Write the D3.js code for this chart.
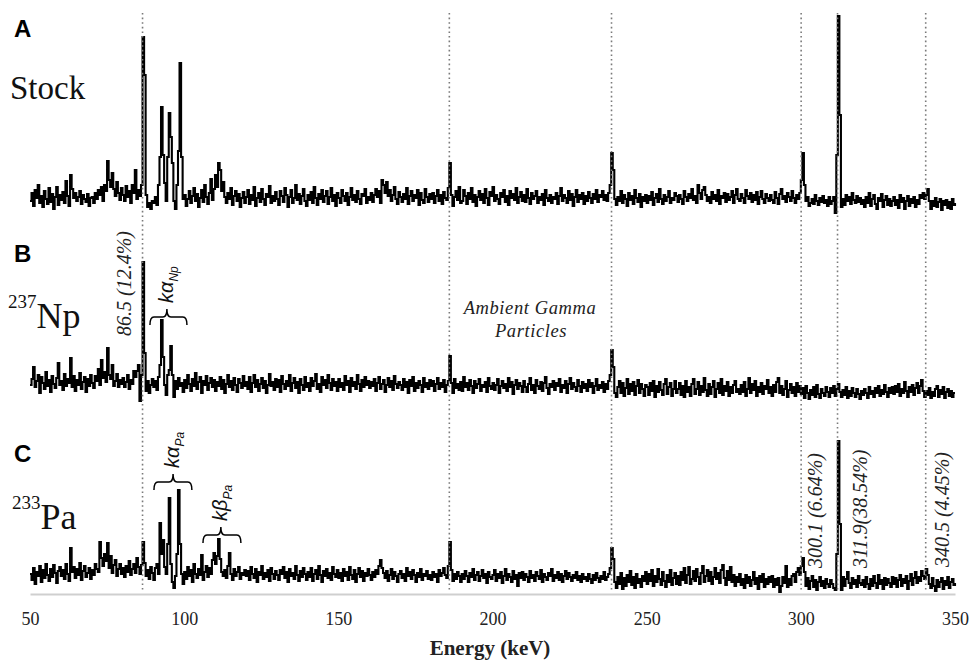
<!DOCTYPE html>
<html><head><meta charset="utf-8">
<script src="https://cdn.jsdelivr.net/npm/d3@7"></script>
<style>html,body{margin:0;padding:0;background:#fff;}svg{display:block;}
.serif{font-family:"Liberation Serif","DejaVu Serif","Noto Serif","Times New Roman",Times,serif;}
.sans{font-family:"Liberation Sans","Arimo",Arial,"DejaVu Sans",sans-serif;}
</style>
</head><body>
<svg id="chart" width="971" height="661"></svg>
<script>
// ---- DATA (counts per 0.5 keV channel, 50 .. 350 keV) ----
const startEnergy = 50, channelWidth = 0.5;
const stockCounts = [
14,22,9,25,17,30,12,19,8,24,16,11,27,13,21,6,18,28,10,20,
15,23,12,34,19,9,40,26,17,22,14,18,24,11,20,16,13,21,9,17,
18,12,22,16,25,20,28,14,30,24,54,35,28,42,26,19,33,22,15,27,
20,14,29,18,24,12,30,22,45,16,25,19,30,178,140,20,8,12,6,14,
12,18,10,30,58,108,60,32,14,58,102,78,52,14,6,30,64,152,58,16,
20,9,16,24,12,19,27,14,21,8,17,25,13,30,18,11,22,36,15,26,
40,28,52,45,24,33,18,12,22,16,27,10,19,24,14,21,8,17,23,12,
18,25,11,20,15,28,9,17,22,13,26,16,10,21,18,29,12,19,14,23,
16,10,24,19,13,27,20,8,18,25,12,17,30,15,21,11,19,26,14,9,
20,15,23,12,28,17,10,21,16,25,13,19,24,11,18,27,14,20,9,22,
17,12,25,19,14,22,10,18,27,15,20,13,24,16,11,21,19,26,12,18,
15,22,13,20,26,18,24,12,35,30,22,33,19,25,14,20,28,16,11,23,
18,13,21,16,27,11,19,24,14,20,17,25,10,22,15,12,26,18,13,21,
16,22,12,19,25,14,20,11,23,17,15,27,52,20,9,18,24,15,28,12,
14,25,19,11,22,16,27,13,20,9,18,24,15,21,12,26,17,10,23,19,
28,14,20,16,11,22,18,25,13,19,10,24,17,21,15,27,12,18,23,14,
20,13,26,17,11,22,16,19,24,12,18,15,21,10,25,17,14,20,12,18,
16,22,11,19,27,14,20,17,12,24,15,21,9,18,25,13,20,16,22,11,
19,14,23,17,12,21,16,25,13,20,18,24,15,20,14,22,30,62,45,16,
10,18,14,24,12,20,16,9,22,15,19,11,25,17,13,21,8,18,14,20,
12,19,15,23,10,17,21,13,26,16,11,20,14,18,24,12,17,15,22,19,
13,20,16,11,24,18,14,21,17,26,15,19,12,30,22,16,25,28,20,14,
18,12,23,16,20,14,25,11,19,17,22,13,21,15,18,24,12,20,26,16,
14,21,17,12,25,19,16,22,13,20,15,23,11,18,24,16,12,21,17,14,
20,15,12,23,17,11,21,26,16,19,13,22,18,14,24,17,12,20,16,22,
35,62,30,14,18,9,12,16,11,20,14,10,17,13,19,12,15,9,18,11,
14,18,2,60,199,100,8,16,10,20,14,18,11,22,15,12,19,13,17,11,
15,8,18,12,22,9,16,20,11,6,17,14,21,8,15,19,10,16,9,14,
18,10,15,7,20,13,17,6,14,19,9,16,12,18,8,15,11,20,17,22,
16,20,26,14,6,14,9,17,8,13,16,5,14,10,15,7,13,6,16,10,
12];
const npCounts = [
20,26,38,18,24,30,12,28,22,16,33,19,25,13,29,21,17,27,42,20,
24,15,31,19,26,22,47,18,29,14,25,20,32,16,23,28,13,26,19,30,
22,17,29,24,36,20,45,27,33,23,57,30,26,40,19,24,31,18,25,21,
27,18,23,30,16,25,21,34,28,34,40,4,30,143,52,14,24,12,20,26,
18,24,15,28,40,85,48,20,10,30,35,59,30,8,24,16,27,19,22,13,
25,17,30,21,14,26,19,32,16,23,28,12,24,20,29,15,22,27,18,25,
14,23,19,28,16,25,12,21,30,18,24,15,27,20,13,26,22,17,29,19,
23,16,28,13,22,30,18,25,14,21,27,17,24,12,20,31,19,23,15,26,
18,25,13,29,21,16,24,19,30,14,22,27,17,23,12,26,20,15,28,18,
22,14,27,19,24,31,16,21,13,28,20,25,17,30,22,15,26,19,23,14,
26,18,22,15,29,20,24,13,27,19,23,16,30,21,14,25,18,28,20,24,
17,23,19,26,14,22,28,16,21,25,13,20,27,18,24,15,29,21,17,23,
20,15,26,18,23,12,25,19,28,14,22,17,24,20,13,27,18,22,16,25,
19,24,14,21,27,16,22,18,25,13,20,24,49,22,12,26,17,21,15,23,
14,28,18,22,15,25,19,12,24,17,21,26,14,20,18,23,13,27,19,16,
22,15,20,26,12,19,24,17,21,14,27,18,23,11,20,25,16,22,19,13,
24,18,13,21,27,15,20,12,25,19,16,23,14,22,28,17,11,21,18,24,
15,22,19,26,13,20,17,24,12,21,27,16,22,18,14,25,19,13,23,17,
21,14,25,18,22,12,19,26,15,20,17,23,13,21,16,24,30,55,38,12,
8,18,24,12,22,9,17,26,11,21,14,23,10,19,25,12,21,16,9,20,
18,10,22,14,24,8,19,13,23,15,10,21,26,11,18,22,9,16,24,12,
16,22,10,19,8,24,13,18,9,21,26,11,16,23,10,19,13,27,15,9,
21,11,18,24,8,16,22,12,26,10,19,14,23,9,18,12,20,24,13,16,
11,20,13,23,9,16,27,12,21,15,24,9,18,13,22,11,19,16,25,12,
18,9,20,13,23,27,12,19,10,16,24,8,15,21,12,18,9,22,13,19,
11,17,7,19,12,6,15,10,18,8,20,11,7,16,12,9,18,13,8,17,
12,19,9,16,21,13,8,15,10,18,7,14,9,17,12,8,16,11,6,14,
10,16,12,7,18,11,14,8,17,12,19,9,15,11,20,13,8,17,12,18,
11,19,13,21,9,16,12,23,14,8,18,13,20,10,17,22,12,19,25,14,
8,14,10,17,7,13,9,16,19,8,15,11,18,7,13,16,9,14,8,12,
12];
const paCounts = [
20,14,26,10,22,18,28,12,24,16,30,19,13,25,17,29,21,11,23,27,
18,24,15,30,20,13,46,22,27,16,25,19,31,14,23,28,17,21,26,15,
24,19,30,25,22,52,36,28,40,33,51,26,38,21,29,34,18,25,30,20,
26,17,28,22,33,19,25,30,21,36,27,20,29,52,31,18,24,15,27,21,
14,26,30,20,71,40,54,27,20,50,96,30,12,6,18,40,104,50,20,10,
22,15,27,18,24,12,30,20,16,25,19,39,14,22,28,17,26,20,34,41,
30,38,55,35,22,18,24,16,28,41,20,14,25,18,22,27,15,21,19,24,
18,23,14,27,20,16,25,12,22,19,28,15,21,17,24,13,26,20,15,23,
19,14,24,20,27,16,22,12,25,18,21,15,28,19,13,23,17,26,20,14,
22,17,26,13,20,24,15,28,19,12,23,18,25,16,21,14,27,20,17,24,
16,21,13,25,18,22,14,27,19,15,24,12,20,26,17,23,13,21,18,25,
19,14,22,17,24,20,28,34,26,21,16,23,13,19,25,15,22,18,12,20,
23,16,20,13,26,18,22,15,24,19,12,21,17,25,14,20,18,23,15,19,
14,22,17,20,12,24,18,21,26,19,16,28,52,24,13,20,15,22,18,12,
20,15,23,18,12,21,17,25,14,19,22,13,18,24,16,20,11,22,17,15,
19,24,13,20,16,22,11,18,25,14,20,17,12,23,15,19,8,21,16,22,
14,20,17,12,23,16,19,13,22,18,15,24,12,20,17,14,21,18,25,13,
19,16,22,14,20,12,18,23,15,21,17,13,19,16,22,14,18,12,20,15,
17,13,20,15,11,19,14,21,16,12,18,15,22,14,17,20,26,46,35,12,
6,17,10,21,5,16,8,19,12,23,9,17,6,20,11,15,7,18,13,22,
10,20,13,24,8,18,12,25,15,9,22,13,7,19,12,24,9,16,21,10,
18,9,22,14,26,11,19,27,10,15,23,13,25,17,10,21,28,12,18,24,
13,22,10,17,26,15,21,11,24,29,16,9,23,14,27,12,19,8,17,12,
20,9,15,6,19,11,17,8,14,22,10,16,5,18,12,20,7,15,10,17,
12,18,7,15,9,16,2,8,17,11,28,7,15,9,18,20,12,22,26,19,
28,36,22,8,16,5,13,18,7,14,4,12,17,8,13,6,15,10,7,14,
10,6,4,40,153,70,4,17,8,15,22,11,6,16,10,14,7,18,11,9,
14,7,17,10,5,15,8,18,11,6,19,10,14,5,16,9,15,11,7,17,
10,16,7,14,19,8,15,11,18,5,13,20,9,16,22,11,17,13,23,18,
15,25,19,10,6,16,8,3,14,7,12,16,5,13,9,17,6,12,15,9,
11];
const xTicks = [50, 100, 150, 200, 250, 300, 350];
const markerEnergies = [86.5, 186, 238.6, 300.1, 311.9, 340.5];
const panelLetters = ["A", "B", "C"];
const panelSamples = [{sup: "", name: "Stock"}, {sup: "237", name: "Np"}, {sup: "233", name: "Pa"}];
const peakLabels = [
  {e: 86.5, text: "86.5 (12.4%)", panel: 1},
  {e: 300.1, text: "300.1 (6.64%)", panel: 2},
  {e: 311.9, text: "311.9(38.54%)", panel: 2},
  {e: 340.5, text: "340.5 (4.45%)", panel: 2}
];
const braceGroups = [
  {panel: 1, from: 88.9, to: 100.9, mid: 94.4, level: 88, k: "kα", sub: "Np"},
  {panel: 2, from: 90.2, to: 102.5, mid: 96.4, level: 112, k: "kα", sub: "Pa"},
  {panel: 2, from: 106.1, to: 118.4, mid: 111.9, level: 59, k: "kβ", sub: "Pa"}
];

// ---- LAYOUT ----
const svg = d3.select("#chart");
const x = d3.scaleLinear().domain([50, 350]).range([30, 955]);
const zeroLines = [215, 405, 594];
const yScales = zeroLines.map(z => d3.scaleLinear().domain([0, 200]).range([z, z - 200]));
const series = [stockCounts, npCounts, paCounts];

// axis
const axisG = svg.append("g").attr("transform", "translate(0,594)")
  .call(d3.axisBottom(x).tickValues(xTicks).tickSize(0).tickPadding(18).tickFormat(d3.format("d")));
axisG.attr("font-family", null).attr("font-size", null);
axisG.select(".domain").attr("stroke", "#cfcfcf").attr("stroke-width", 2);
axisG.selectAll("text").attr("class", "serif").style("font-size", "18px").attr("fill", "#222");
svg.append("text").attr("class", "serif").attr("x", 490).attr("y", 655).attr("text-anchor", "middle")
  .style("font-weight", "bold").style("font-size", "21px").attr("fill", "#222")
  .text("Energy (keV)");

// spectra
const line = d3.line().x((d, i) => x(startEnergy + i * channelWidth)).curve(d3.curveStepAfter);
series.forEach((s, p) => {
  svg.append("path").datum(s)
    .attr("d", line.y(d => yScales[p](d)))
    .attr("fill", "none").attr("stroke", "#000").attr("stroke-width", 2.1)
    .attr("stroke-linejoin", "miter");
});

// dotted marker lines
svg.selectAll(".marker").data(markerEnergies).join("line")
  .attr("x1", d => x(d)).attr("x2", d => x(d)).attr("y1", 13).attr("y2", 592)
  .attr("stroke", "#7a7a7a").attr("stroke-width", 1.6).attr("stroke-dasharray", "1.6,3");

// panel letters and sample names
const letterY = [37, 262, 462];
panelLetters.forEach((L, i) => {
  svg.append("text").attr("class", "sans").attr("x", 14).attr("y", letterY[i])
    .style("font-weight", "bold").style("font-size", "24px").attr("fill", "#000").text(L);
});
const nameY = [99, 328, 529];
const nameX = [10, 8, 12];
panelSamples.forEach((s, i) => {
  const t = svg.append("text").attr("class", "serif").attr("x", nameX[i]).attr("y", nameY[i]).attr("fill", "#111");
  if (s.sup) {
    t.append("tspan").style("font-size", "19px").attr("dy", -20).text(s.sup);
    t.append("tspan").style("font-size", "36px").attr("dy", 20).text(s.name);
  } else {
    t.append("tspan").style("font-size", "33px").text(s.name);
  }
});

// rotated peak labels
const labelOffsets = {86.5: [-11.5, 336], 300.1: [21, 568], 311.9: [29.5, 568], 340.5: [23, 567]};
peakLabels.forEach(l => {
  const o = labelOffsets[l.e];
  svg.append("text").attr("class", "serif").attr("transform", `translate(${x(l.e) + o[0]},${o[1]}) rotate(-90)`)
    .style("font-style", "italic").style("font-size", "20px").attr("fill", "#222")
    .text(l.text);
});

// braces + k labels
braceGroups.forEach(b => {
  const ys = yScales[b.panel];
  const x1 = x(b.from), x2 = x(b.to), xm = x(b.mid);
  const yl = ys(b.level), ye = yl + 8, yt = yl - 8;
  const p = `M${x1},${ye} Q${x1},${yl} ${x1 + 4},${yl} L${xm - 4},${yl} Q${xm},${yl} ${xm},${yt} Q${xm},${yl} ${xm + 4},${yl} L${x2 - 4},${yl} Q${x2},${yl} ${x2},${ye}`;
  svg.append("path").attr("d", p).attr("fill", "none").attr("stroke", "#000").attr("stroke-width", 1.5);
  const t = svg.append("text").attr("class", "sans").attr("transform", `translate(${xm + 6},${yt - 6}) rotate(-90)`)
    .style("font-style", "italic").attr("fill", "#111");
  t.append("tspan").style("font-size", "20px").text(b.k);
  t.append("tspan").style("font-size", "12px").attr("dy", 5).text(b.sub);
});

// ambient gamma note
const note = svg.append("text").attr("class", "serif").attr("text-anchor", "middle")
  .style("font-style", "italic").style("font-size", "18.5px").style("letter-spacing", "0.6px").attr("fill", "#222");
note.append("tspan").attr("x", 530).attr("y", 314).text("Ambient Gamma");
note.append("tspan").attr("x", 531).attr("y", 337).text("Particles");
</script>
</body></html>
